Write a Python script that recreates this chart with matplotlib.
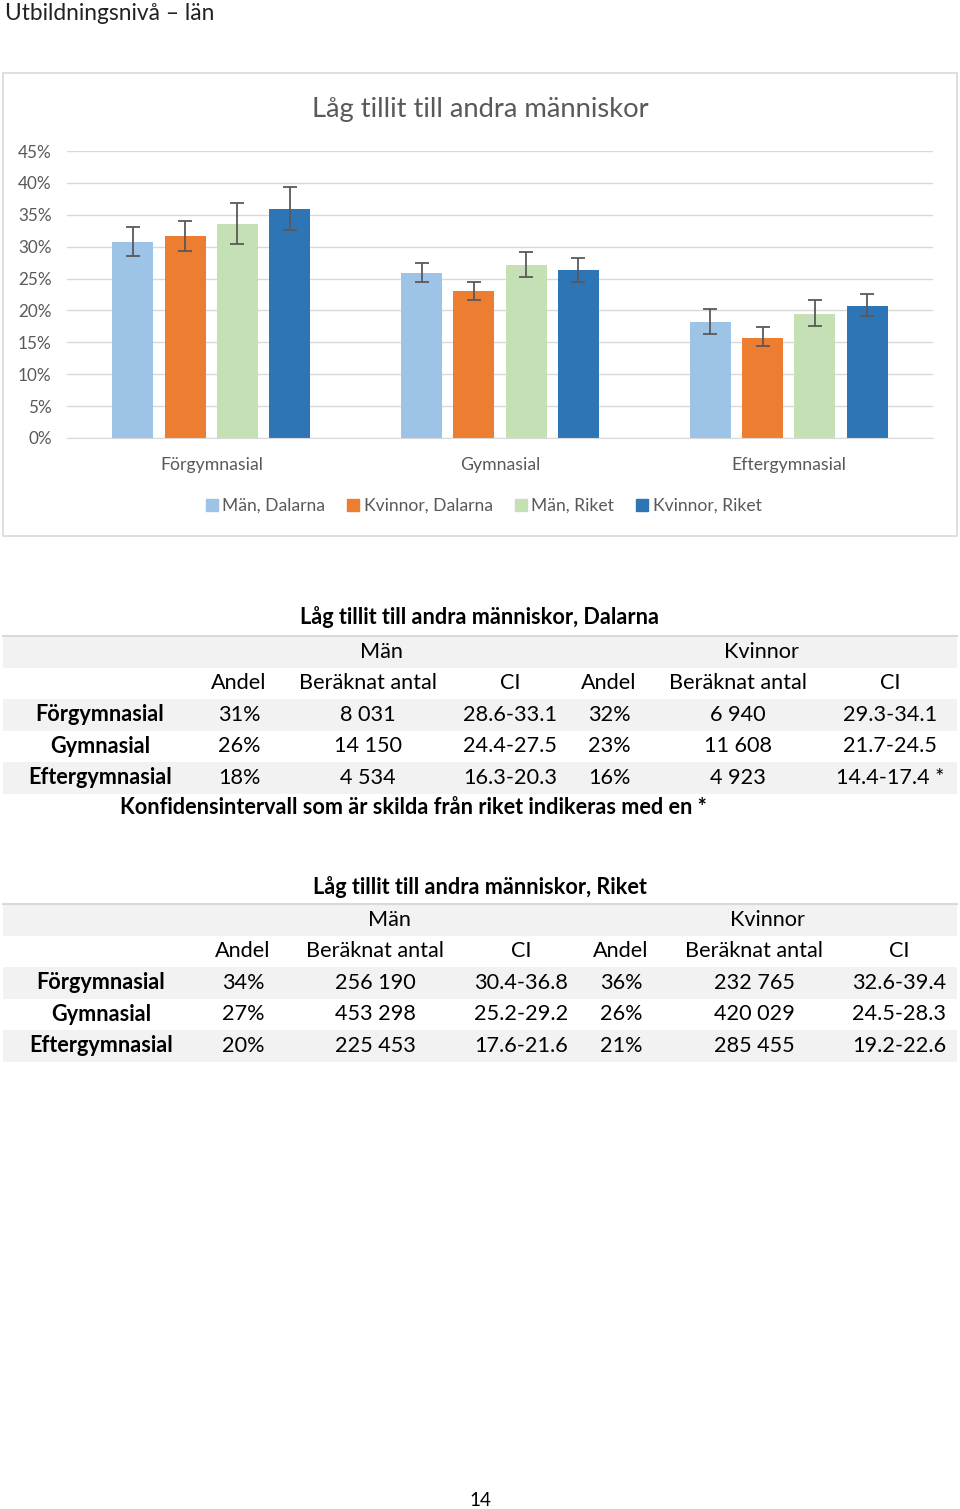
import matplotlib.pyplot as plt
from matplotlib.patches import Rectangle
from matplotlib.lines import Line2D
import numpy as np

plt.rcParams['font.family'] = ['Lato', 'DejaVu Sans']

W, H = 960, 1509

# data for the chart
categories = ['Förgymnasial', 'Gymnasial', 'Eftergymnasial']
series = ['Män, Dalarna', 'Kvinnor, Dalarna', 'Män, Riket', 'Kvinnor, Riket']
colors = ['#9dc3e6', '#ed7d31', '#c5e0b4', '#2e75b6']

man_dalarna = [30.8, 25.9, 18.2]
kvinnor_dalarna = [31.7, 23.0, 15.7]
man_riket = [33.5, 27.1, 19.4]
kvinnor_riket = [35.9, 26.3, 20.7]

ci_man_dalarna = [(28.6, 33.1), (24.4, 27.5), (16.3, 20.3)]
ci_kvinnor_dalarna = [(29.3, 34.1), (21.7, 24.5), (14.4, 17.4)]
ci_man_riket = [(30.4, 36.8), (25.2, 29.2), (17.6, 21.6)]
ci_kvinnor_riket = [(32.6, 39.4), (24.5, 28.3), (19.2, 22.6)]

# data for the tables
col_headers = ['Andel', 'Beräknat antal', 'CI', 'Andel', 'Beräknat antal', 'CI']
dalarna_rows = [
    ['Förgymnasial', '31%', '8 031', '28.6-33.1', '32%', '6 940', '29.3-34.1'],
    ['Gymnasial', '26%', '14 150', '24.4-27.5', '23%', '11 608', '21.7-24.5'],
    ['Eftergymnasial', '18%', '4 534', '16.3-20.3', '16%', '4 923', '14.4-17.4 *'],
]
riket_rows = [
    ['Förgymnasial', '34%', '256 190', '30.4-36.8', '36%', '232 765', '32.6-39.4'],
    ['Gymnasial', '27%', '453 298', '25.2-29.2', '26%', '420 029', '24.5-28.3'],
    ['Eftergymnasial', '20%', '225 453', '17.6-21.6', '21%', '285 455', '19.2-22.6'],
]

FS = 15.6  # table font size


def fx(x):
    return x / W


def fy(y):
    return 1 - y / H


fig = plt.figure(figsize=(9.6, 15.09), dpi=100)

fig.text(fx(5), fy(13), 'Utbildningsnivå – län', fontsize=16.4, color='#222222',
         ha='left', va='center')

# chart frame
fig.patches.append(Rectangle((fx(3), fy(536)), fx(954), 463 / H, transform=fig.transFigure,
                             fill=False, edgecolor='#d9d9d9', lw=1.2))
fig.text(fx(480), fy(110), 'Låg tillit till andra människor', fontsize=19.7,
         color='#595959', ha='center', va='center')

ax = fig.add_axes([fx(67), fy(438), fx(866), 287 / H])
x = np.arange(len(categories))
step = 0.181
width = 0.142
all_vals = [man_dalarna, kvinnor_dalarna, man_riket, kvinnor_riket]
all_ci = [ci_man_dalarna, ci_kvinnor_dalarna, ci_man_riket, ci_kvinnor_riket]
for i, (vals, ci) in enumerate(zip(all_vals, all_ci)):
    pos = x + (i - 1.5) * step
    ax.bar(pos, vals, width, color=colors[i], zorder=2)
    lo = [v - c[0] for v, c in zip(vals, ci)]
    hi = [c[1] - v for v, c in zip(vals, ci)]
    ax.errorbar(pos, vals, yerr=[lo, hi], fmt='none', ecolor='#595959',
                elinewidth=1.3, capsize=5, capthick=1.3, zorder=3)

ax.set_xlim(-0.5, 2.5)
ax.set_ylim(0, 45)
ax.set_yticks(range(0, 50, 5))
ax.set_yticklabels([f'{t}%' for t in range(0, 50, 5)])
ax.set_xticks(x)
ax.set_xticklabels(categories)
ax.grid(axis='y', color='#d9d9d9', lw=1, zorder=0)
for s in ax.spines.values():
    s.set_visible(False)
ax.spines['bottom'].set_visible(True)
ax.spines['bottom'].set_color('#d9d9d9')
ax.tick_params(axis='both', length=0, colors='#595959')
ax.tick_params(axis='y', pad=11, labelsize=12.3)
ax.tick_params(axis='x', pad=14, labelsize=12.7)

handles = [Line2D([], [], marker='s', linestyle='none', markersize=8,
                  markerfacecolor=c, markeredgecolor=c) for c in colors]
leg = fig.legend(handles, series, loc='center', bbox_to_anchor=(fx(484), fy(506)),
                 ncol=4, frameon=False, fontsize=12.6, handlelength=0.6,
                 handletextpad=0.3, columnspacing=1.3)
for t in leg.get_texts():
    t.set_color('#595959')


def draw_table(title, title_y, top, rows, label_x, col_x, group_x):
    fig.text(fx(480), fy(title_y), title, fontsize=FS, fontweight='bold',
             ha='center', va='center', color='#000000')
    row_h = 31.5
    # header band
    fig.patches.append(Rectangle((fx(3), fy(top + row_h)), fx(954), row_h / H,
                                 transform=fig.transFigure, facecolor='#f2f2f2',
                                 edgecolor='none'))
    fig.lines.append(Line2D([fx(3), fx(957)], [fy(top), fy(top)], transform=fig.transFigure,
                            color='#d9d9d9', lw=1.5))
    fig.text(fx(group_x[0]), fy(top + row_h / 2), 'Män', fontsize=FS, ha='center', va='center')
    fig.text(fx(group_x[1]), fy(top + row_h / 2), 'Kvinnor', fontsize=FS, ha='center', va='center')
    y = top + row_h * 1.5
    for cx, h in zip(col_x, col_headers):
        fig.text(fx(cx), fy(y), h, fontsize=FS, ha='center', va='center')
    for r, row in enumerate(rows):
        ytop = top + row_h * (2 + r)
        if r % 2 == 0:
            fig.patches.append(Rectangle((fx(3), fy(ytop + row_h)), fx(954), row_h / H,
                                         transform=fig.transFigure, facecolor='#f2f2f2',
                                         edgecolor='none'))
        yc = ytop + row_h / 2
        fig.text(fx(label_x), fy(yc), row[0], fontsize=FS, fontweight='bold',
                 ha='center', va='center')
        for cx, v in zip(col_x, row[1:]):
            fig.text(fx(cx), fy(yc), v, fontsize=FS, ha='center', va='center')


draw_table('Låg tillit till andra människor, Dalarna', 617, 636, dalarna_rows,
           100, [239, 368, 510, 609, 738, 890], [381, 761])
fig.text(fx(413), fy(808), 'Konfidensintervall som är skilda från riket indikeras med en *',
         fontsize=FS, fontweight='bold', ha='center', va='center')

draw_table('Låg tillit till andra människor, Riket', 887, 904, riket_rows,
           101, [243, 375, 521, 621, 754, 899], [389, 767])

fig.text(fx(480), fy(1500), '14', fontsize=13.5, ha='center', va='center')

fig.savefig('out.png', dpi=100)
